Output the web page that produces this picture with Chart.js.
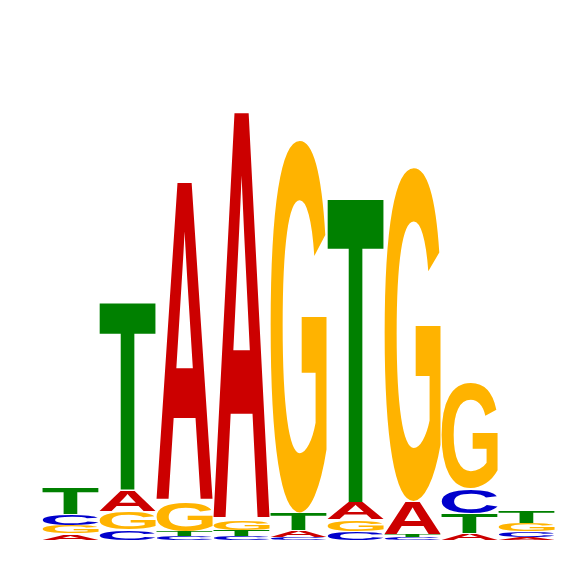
<!DOCTYPE html>
<html>
<head>
<meta charset="utf-8">
<script src="https://cdn.jsdelivr.net/npm/chart.js@4"></script>
<style>
  html, body { margin: 0; padding: 0; background: #fff; }
  #wrap { width: 566px; height: 566px; }
</style>
</head>
<body>
<div id="wrap"><canvas id="logo"></canvas></div>
<script>
// positions of the motif
const positions = ["1", "2", "3", "4", "5", "6", "7", "8", "9"];

// letter heights (bits) per position
const heightA = [0.026, 0.086, 1.280, 1.636, 0.028, 0.070, 0.132, 0.028, 0.010];
const heightC = [0.044, 0.042, 0.016, 0.016, 0.012, 0.036, 0.012, 0.100, 0.026];
const heightG = [0.034, 0.074, 0.120, 0.040, 1.494, 0.046, 1.338, 0.424, 0.034];
const heightT = [0.104, 0.750, 0.020, 0.024, 0.070, 1.216, 0.012, 0.080, 0.048];

const letters = ["A", "C", "G", "T"];
const heights = { A: heightA, C: heightC, G: heightG, T: heightT };
const colors = { A: "#cc0000", C: "#0000cc", G: "#ffb300", T: "#008000" };

// stack letters per column: smallest at the bottom
const ranges = { A: [], C: [], G: [], T: [] };
positions.forEach((p, i) => {
  const order = letters.slice().sort((a, b) => heights[a][i] - heights[b][i]);
  let base = 0;
  order.forEach(l => {
    ranges[l][i] = [base, base + heights[l][i]];
    base += heights[l][i];
  });
});

const FONT = "bold 200px 'Liberation Sans', Arial, sans-serif";

// find the real ink box of a glyph by scanning an offscreen render
function inkBox(ch) {
  const c = document.createElement("canvas");
  c.width = 400; c.height = 400;
  const g = c.getContext("2d", { willReadFrequently: true });
  g.font = FONT;
  g.fillStyle = "#000";
  g.textBaseline = "alphabetic";
  g.fillText(ch, 100, 300);
  const px = g.getImageData(0, 0, 400, 400).data;
  let x0 = 400, y0 = 400, x1 = -1, y1 = -1;
  for (let y = 0; y < 400; y++) {
    for (let x = 0; x < 400; x++) {
      if (px[(y * 400 + x) * 4 + 3] > 110) {
        if (x < x0) x0 = x;
        if (x > x1) x1 = x;
        if (y < y0) y0 = y;
        if (y > y1) y1 = y;
      }
    }
  }
  return { ox: 100 - x0, oy: 300 - y0, w: x1 - x0 + 1, h: y1 - y0 + 1 };
}
const boxes = {};
letters.forEach(l => { boxes[l] = inkBox(l); });

// draws each bar as a stretched glyph
const glyphPlugin = {
  id: "glyphs",
  afterDatasetsDraw(chart) {
    const ctx = chart.ctx;
    chart.data.datasets.forEach((ds, di) => {
      const meta = chart.getDatasetMeta(di);
      const b = boxes[ds.label];
      meta.data.forEach(el => {
        const top = Math.min(el.y, el.base);
        const bottom = Math.max(el.y, el.base);
        const h = bottom - top;
        if (h < 0.5) return;
        const inset = h > 6 ? 1 : 0;
        const left = el.x - el.width / 2;
        ctx.save();
        ctx.font = FONT;
        ctx.translate(left, top + inset);
        ctx.scale(el.width / b.w, (h - inset) / b.h);
        ctx.fillStyle = ds.glyphColor;
        ctx.textBaseline = "alphabetic";
        ctx.fillText(ds.label, b.ox, b.oy);
        ctx.restore();
      });
    });
  }
};

new Chart(document.getElementById("logo"), {
  type: "bar",
  data: {
    labels: positions,
    datasets: letters.map(l => ({
      label: l,
      data: ranges[l],
      glyphColor: colors[l],
      backgroundColor: "rgba(0,0,0,0)",
      borderWidth: 0,
      grouped: false,
      barPercentage: 1,
      categoryPercentage: 0.98
    }))
  },
  options: {
    responsive: true,
    maintainAspectRatio: false,
    animation: false,
    layout: { padding: { left: 42, right: 11, top: 40, bottom: 26 } },
    plugins: {
      legend: { display: false },
      tooltip: { enabled: false }
    },
    scales: {
      x: { display: false },
      y: { display: false, min: 0, max: 2 }
    }
  },
  plugins: [glyphPlugin]
});
</script>
</body>
</html>
